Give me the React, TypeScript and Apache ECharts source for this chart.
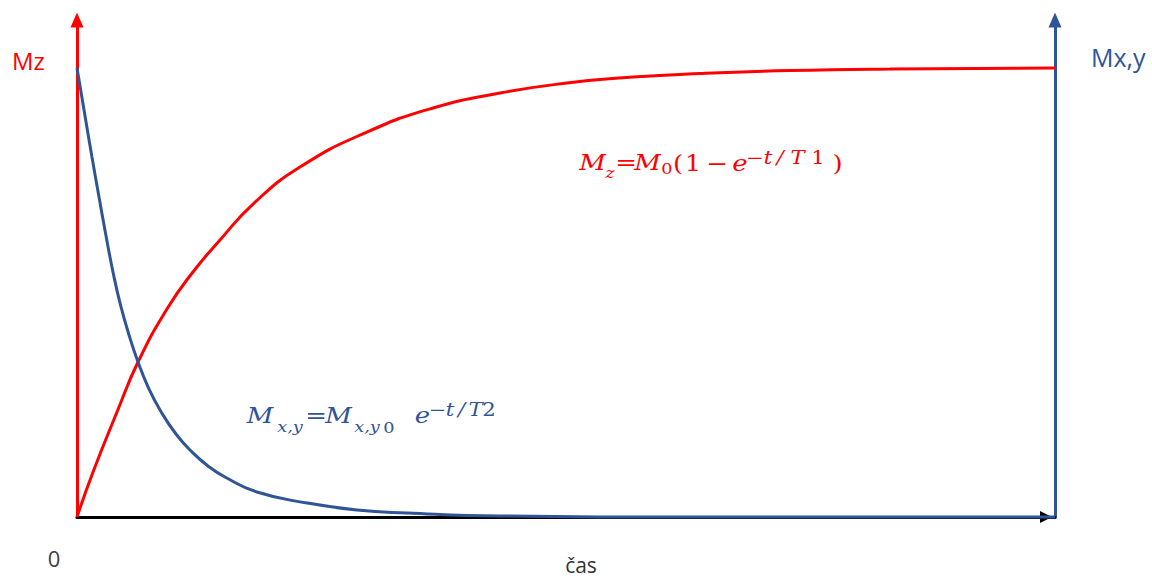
import React, { useEffect, useRef } from "react";
import * as echarts from "echarts";

// time axis: 0 .. 100 (arbitrary units), magnetisation in % of M0
const T_MAX = 100;
const M_MAX = 110.7;

const mzTime = [0, 1.64, 4.09, 6.24, 9.2, 11.86, 14.62, 18.0, 22.8, 29.65, 36.4, 43.25, 50.1, 56.85, 63.7, 72.9, 83.13, 100];
const mzValue = [0, 10.02, 23.39, 34.52, 46.33, 54.57, 61.69, 69.71, 77.95, 85.75, 91.09, 94.43, 96.66, 97.99, 98.78, 99.44, 99.78, 100];

const mxyTime = [0, 0.82, 1.53, 2.25, 2.97, 3.68, 4.4, 5.32, 6.24, 7.36, 8.49, 10.12, 11.76, 13.39, 15.13, 18.4, 23.52, 28.63, 33.74, 43.25, 63.7, 100];
const mxyValue = [100, 89.31, 80.18, 71.27, 62.58, 54.57, 47.66, 40.53, 34.52, 28.51, 23.83, 18.49, 14.48, 11.36, 8.91, 5.57, 3.12, 1.56, 0.89, 0.22, 0, 0];

const RED = "#FF0000";
const BLUE = "#2F5597";
const MATH_FONT = '"DejaVu Serif", "Liberation Serif", serif';
const UI_FONT = '"Open Sans", "Noto Sans", sans-serif';

function txt(
  text: string,
  x: number,
  y: number,
  size: number,
  color: string,
  italic: boolean,
  family: string = MATH_FONT,
  align: string = "center",
  sx: number = 1.18
) {
  return {
    type: "text",
    x,
    y,
    scaleX: sx,
    silent: true,
    style: {
      text,
      fill: color,
      fontSize: size,
      fontFamily: family,
      fontStyle: italic ? "italic" : "normal",
      textAlign: align,
      align,
      textVerticalAlign: "middle",
      verticalAlign: "middle",
    },
  };
}

export default function App() {
  const ref = useRef<HTMLDivElement>(null);
  useEffect(() => {
    const chart = echarts.init(ref.current!, null, { renderer: "svg" });
    const zip = (a: number[], b: number[]) => a.map((v, i) => [v, b[i]]);

    const MAIN = 22;
    const SUB = 15;
    const SUP = 18;
    const graphics = [
      txt("Mz", 12, 60, 24, RED, false, UI_FONT, "left", 1),
      txt("Mx,y", 1091, 57, 25, BLUE, false, UI_FONT, "left", 1),
      txt("0", 54, 558, 22, "#404040", false, UI_FONT, "center", 1),
      txt("čas", 581, 565, 21, "#333333", false, UI_FONT, "center", 1),
      // Mz = M0(1 - e^{-t/T1})
      txt("M", 592.5, 163, MAIN, RED, true),
      txt("z", 610, 173, SUB, RED, true),
      txt("=", 626, 163, MAIN, RED, false),
      txt("M", 647.5, 163, MAIN, RED, true),
      txt("0", 667, 169, SUB, RED, false),
      txt("(", 678, 164, MAIN, RED, false),
      txt("1", 693, 164, MAIN, RED, false),
      txt("−", 717, 164, MAIN, RED, false),
      txt("e", 740, 164, MAIN, RED, true),
      txt("−", 755, 158, SUP, RED, false),
      txt("t", 768, 158, SUP, RED, true),
      txt("/", 780, 158, SUP, RED, true),
      txt("T", 797.5, 158, SUP, RED, true),
      txt("1", 818, 158, SUP, RED, false),
      txt(")", 837.5, 164, MAIN, RED, false),
      // Mx,y = Mx,y0 e^{-t/T2}
      txt("M", 260, 416, MAIN, BLUE, true),
      txt("x,y", 290, 427, SUB, BLUE, true),
      txt("=", 316, 416, MAIN, BLUE, false),
      txt("M", 338.5, 416, MAIN, BLUE, true),
      txt("x,y", 367, 427, SUB, BLUE, true),
      txt("0", 389, 428, SUB, BLUE, false),
      txt("e", 422.5, 416, MAIN, BLUE, true),
      txt("−", 437.5, 410, SUP, BLUE, false),
      txt("t", 450, 410, SUP, BLUE, true),
      txt("/", 461.5, 410, SUP, BLUE, true),
      txt("T", 475.5, 410, SUP, BLUE, true),
      txt("2", 489, 410, SUP, BLUE, false),
    ];

    const option: any = {
      animation: false,
      backgroundColor: "#ffffff",
      grid: { left: 77, right: 97, top: 20, bottom: 61, outerBoundsMode: "none", containLabel: false },
      xAxis: {
        type: "value",
        min: 0,
        max: T_MAX,
        axisLine: {
          show: true,
          onZero: false,
          lineStyle: { color: "#000000", width: 3 },
          symbol: ["none", "triangle"],
          symbolSize: [12, 12],
          symbolOffset: [0, -9],
        },
        axisTick: { show: false },
        axisLabel: { show: false },
        splitLine: { show: false },
      },
      yAxis: [
        {
          type: "value",
          position: "left",
          min: 0,
          max: M_MAX,
          axisLine: {
            show: true,
            onZero: false,
            lineStyle: { color: RED, width: 3 },
            symbol: ["none", "triangle"],
            symbolSize: [13, 15],
          },
          axisTick: { show: false },
          axisLabel: { show: false },
          splitLine: { show: false },
        },
        {
          type: "value",
          position: "right",
          min: 0,
          max: M_MAX,
          axisLine: {
            show: true,
            onZero: false,
            lineStyle: { color: BLUE, width: 3 },
            symbol: ["none", "triangle"],
            symbolSize: [13, 15],
          },
          axisTick: { show: false },
          axisLabel: { show: false },
          splitLine: { show: false },
        },
      ],
      series: [
        {
          name: "Mz",
          type: "line",
          yAxisIndex: 0,
          data: zip(mzTime, mzValue),
          showSymbol: false,
          smooth: 0.5,
          clip: false,
          lineStyle: { color: RED, width: 3 },
          z: 3,
        },
        {
          name: "Mx,y",
          type: "line",
          yAxisIndex: 0,
          data: zip(mxyTime, mxyValue),
          showSymbol: false,
          smooth: 0.5,
          clip: false,
          lineStyle: { color: BLUE, width: 3 },
          z: 4,
        },
      ],
      graphic: graphics,
    };
    chart.setOption(option);
    return () => chart.dispose();
  }, []);
  return (
    <div
      ref={ref}
      style={{ position: "absolute", left: 0, top: 0, width: 1152, height: 578, background: "#fff" }}
    />
  );
}
